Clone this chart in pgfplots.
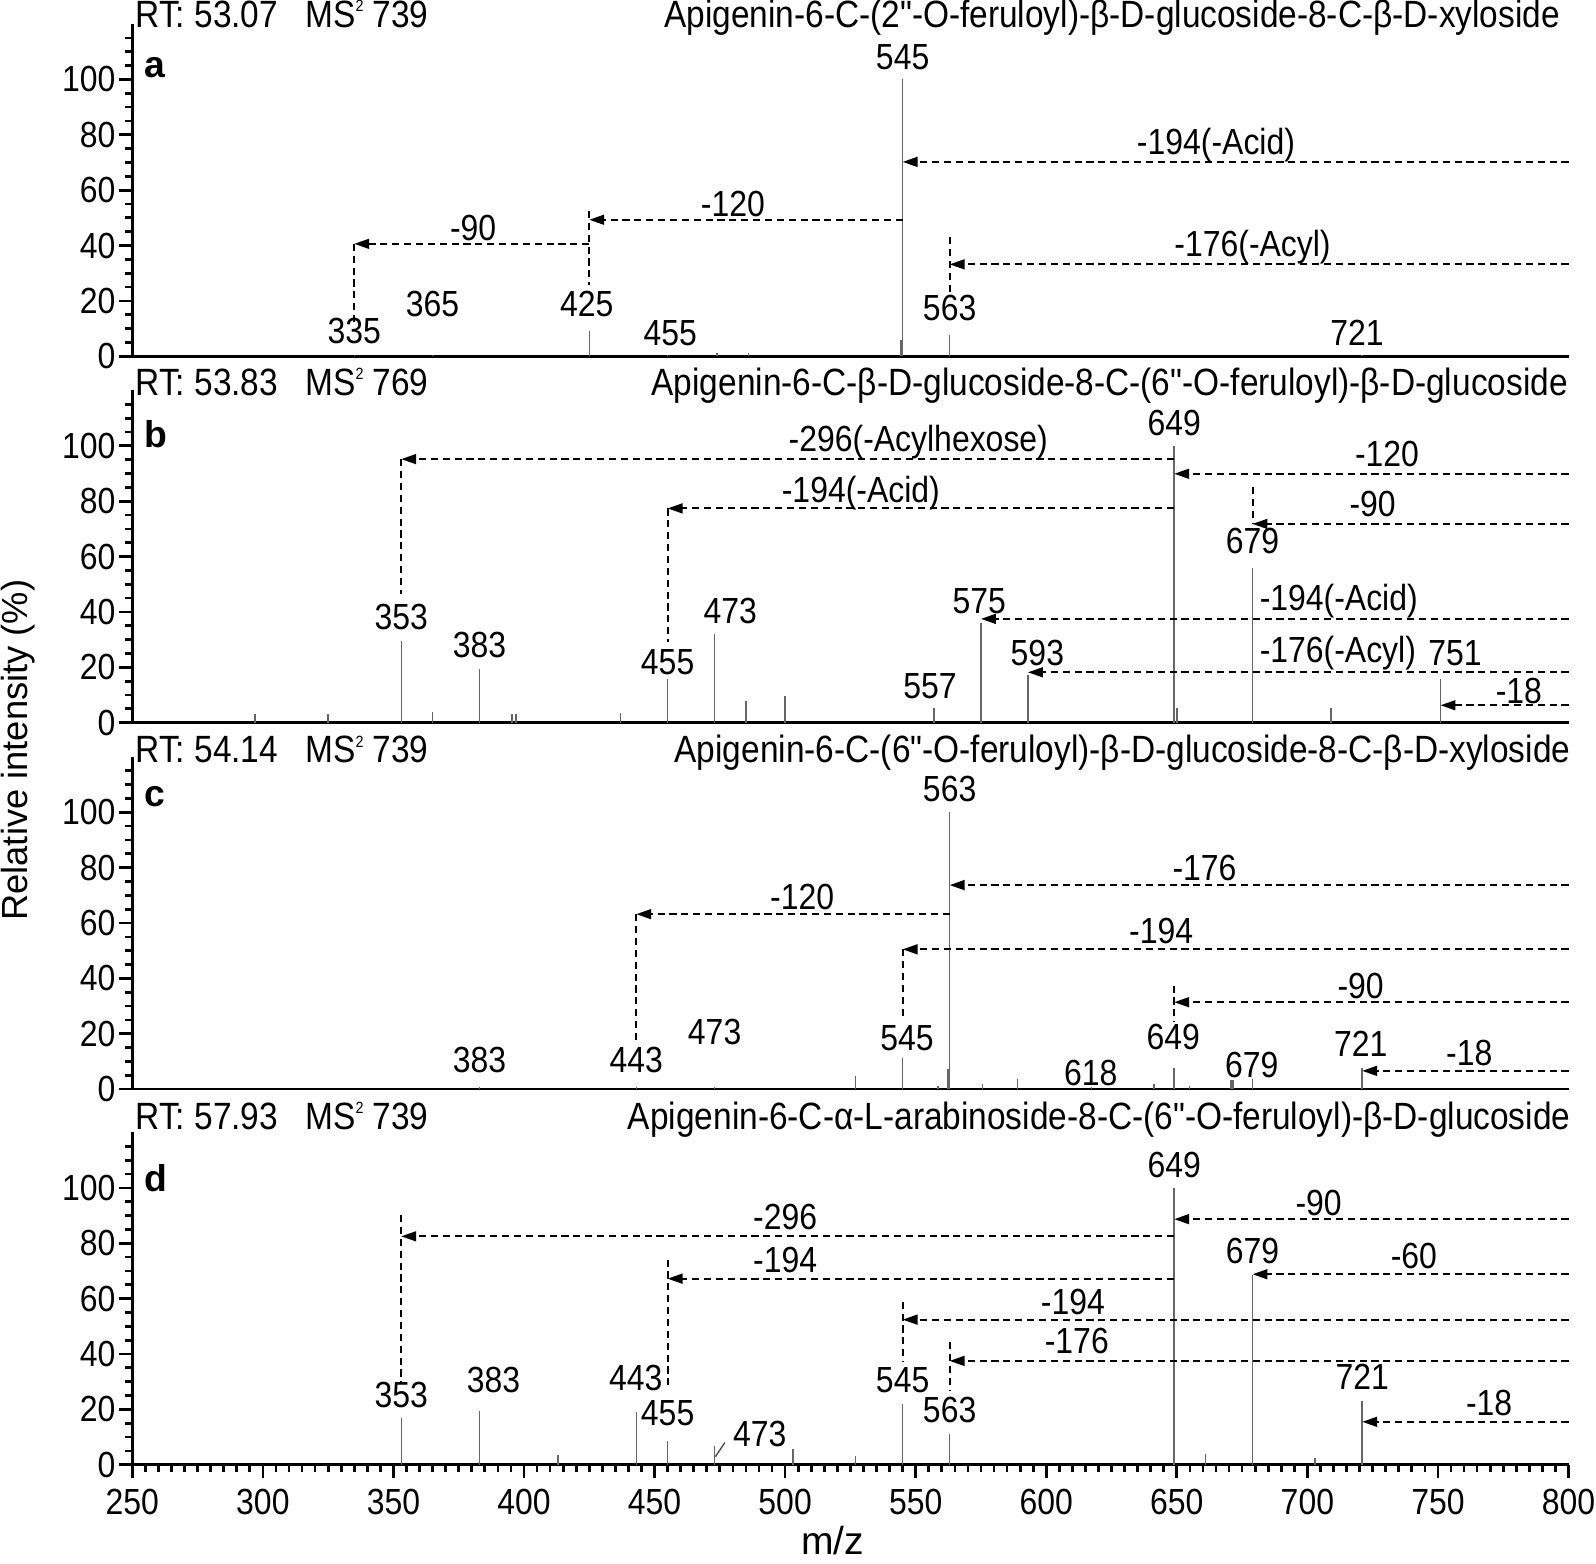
\documentclass[border=0pt]{standalone}
\usepackage{fontspec}
\setmainfont{Liberation Sans}
\setmonofont{Liberation Sans}[FakeStretch=0.88]
\newfontfamily\nf{Liberation Sans}[FakeStretch=0.88]
\usepackage{pgfplots}
\pgfplotsset{compat=1.18}
\usetikzlibrary{arrows.meta}
\newcommand\lab{\nf\fontsize{10.7}{12}\selectfont}
\newcommand\ttl{\nf\fontsize{11.2}{12}\selectfont}
\newcommand\q{{\ttfamily"}}
\newcommand\sq{\raisebox{4.7pt}{\nf\fontsize{4.8}{5}\selectfont 2}}
\pgfplotsset{
 ms/.style={
  scale only axis, width=423.3pt, height=97.92pt,
  xmin=250, xmax=800, ymin=0, ymax=120,
  axis lines=left, axis line style={-, line width=0.8pt},
  clip=false,
  ytick={0,20,40,60,80,100},
  minor ytick={5,10,15,25,30,35,45,50,55,65,70,75,85,90,95,105,110,115},
  tick align=outside, major tick length=3.8pt, minor tick length=2.2pt,
  every tick/.style={black, line width=0.8pt},
  yticklabel style={font=\lab, inner sep=1pt},
  xticklabel style={font=\lab},
  /pgf/number format/assume math mode=true,
  xtick=\empty,
  anchor=south west,
 },
 stick/.style={ycomb, no marks, draw=black!60, line width=0.45pt},
}
\tikzset{
 dl/.style={black, line width=0.6pt, dash pattern=on 2.1pt off 1.4pt},
 ar/.style={dl, -{Triangle[length=4.4pt,width=2.9pt]}},
 pl/.style={font=\lab, inner sep=0pt},
 tl/.style={font=\ttl, inner sep=0pt},
 pan/.style={font=\bfseries\fontsize{11}{13}\selectfont, inner sep=0pt, anchor=base west},
}
\begin{document}
\begin{tikzpicture}
% ---------------- panel a ----------------
\begin{axis}[ms, at={(39pt,-105pt)}]
\addplot[stick] coordinates {(335,0.5)(365,0.5)(425,9)(455,0.5)(474,1)(486,1)(544.4,6)(545,100)(563,7.5)(721,0.5)};
\node[tl, anchor=base west] at (axis cs:251,118.7) {RT: 53.07};
\node[tl, anchor=base west] at (axis cs:316,118.7) {MS\sq\ 739};
\node[tl, anchor=base east] at (axis cs:797,118.7) {Apigenin-6-C-(2\q-O-feruloyl)-β-D-glucoside-8-C-β-D-xyloside};
\node[pan] at (axis cs:254.3,100.6) {a};
\node[pl] at (axis cs:545,108) {545};
\node[pl] at (axis cs:563,17.3) {563};
\node[pl] at (axis cs:424,18.7) {425};
\node[pl] at (axis cs:335,9) {335};
\node[pl] at (axis cs:365,18.7) {365};
\node[pl] at (axis cs:456,8.4) {455};
\node[pl] at (axis cs:719,8.4) {721};
\node[pl] at (axis cs:665,76.4) {-194(-Acid)};
\node[pl] at (axis cs:480,54.9) {-120};
\node[pl] at (axis cs:380.5,46.5) {-90};
\node[pl] at (axis cs:679,39.4) {-176(-Acyl)};
\draw[ar] (axis cs:800,70.2) -- (axis cs:545,70.2);
\draw[ar] (axis cs:545,49.3) -- (axis cs:425,49.3);
\draw[dl] (axis cs:425,52.5) -- (axis cs:425,25.7);
\draw[ar] (axis cs:425,40.6) -- (axis cs:335,40.6);
\draw[dl] (axis cs:335,40.6) -- (axis cs:335,12.5);
\draw[ar] (axis cs:800,33.2) -- (axis cs:563,33.2);
\draw[dl] (axis cs:563,43) -- (axis cs:563,23.3);
\end{axis}
% ---------------- panel b ----------------
\begin{axis}[ms, at={(39pt,-213pt)}]
\addplot[stick] coordinates {(297,3)(325,3)(353,29.4)(365,4)(383,19.3)(395.5,3.3)(397,3.3)(437,3.6)(455,15.7)(473,32.1)(485,7.7)(500,9.5)(557,5.4)(575,36)(593,17.3)(649,100)(650,5.4)(679,55.7)(709,5.4)(751,15.7)};
\node[tl, anchor=base west] at (axis cs:251,118.2) {RT: 53.83};
\node[tl, anchor=base west] at (axis cs:316,118.2) {MS\sq\ 769};
\node[tl, anchor=base east] at (axis cs:800,118.2) {Apigenin-6-C-β-D-glucoside-8-C-(6\q-O-feruloyl)-β-D-glucoside};
\node[pan] at (axis cs:254.3,99.4) {b};
\node[pl] at (axis cs:353,38.1) {353};
\node[pl] at (axis cs:383,28) {383};
\node[pl] at (axis cs:455,22) {455};
\node[pl] at (axis cs:479,40.5) {473};
\node[pl] at (axis cs:555.5,13.3) {557};
\node[pl] at (axis cs:574.3,43.8) {575};
\node[pl] at (axis cs:596.6,25) {593};
\node[pl] at (axis cs:649,108.3) {649};
\node[pl] at (axis cs:679,65.5) {679};
\node[pl] at (axis cs:756.5,25) {751};
\node[pl] at (axis cs:551,101.5) {-296(-Acylhexose)};
\node[pl] at (axis cs:730.5,97) {-120};
\node[pl] at (axis cs:529,83) {-194(-Acid)};
\node[pl] at (axis cs:725,79) {-90};
\node[pl, anchor=west] at (axis cs:681.5,43.8) {-194(-Acid)};
\node[pl, anchor=west] at (axis cs:681.5,25) {-176(-Acyl)};
\node[pl] at (axis cs:781,11.5) {-18};
\draw[ar] (axis cs:649,95.2) -- (axis cs:353,95.2);
\draw[dl] (axis cs:353,95.2) -- (axis cs:353,46.4);
\draw[ar] (axis cs:800,89.9) -- (axis cs:649,89.9);
\draw[ar] (axis cs:649,77.4) -- (axis cs:455,77.4);
\draw[dl] (axis cs:455,77.4) -- (axis cs:455,29);
\draw[ar] (axis cs:800,71.8) -- (axis cs:679,71.8);
\draw[dl] (axis cs:679,85.1) -- (axis cs:679,71.8);
\draw[ar] (axis cs:800,37.5) -- (axis cs:575,37.5);
\draw[ar] (axis cs:800,18.2) -- (axis cs:593,18.2);
\draw[ar] (axis cs:800,6.3) -- (axis cs:751,6.3);
\end{axis}
% ---------------- panel c ----------------
\begin{axis}[ms, at={(39pt,-321pt)}]
\addplot[stick] coordinates {(383,0.6)(443,0.6)(473,0.8)(527,4.6)(545,11.1)(558.5,1.2)(562.3,7.3)(563,100)(575.6,1.8)(589,3.5)(617.3,0.8)(641.3,1.8)(649,7.5)(654.8,1.2)(670.8,3.2)(671.6,3.2)(679,3.7)(721,7.5)};
\node[tl, anchor=base west] at (axis cs:251,117.8) {RT: 54.14};
\node[tl, anchor=base west] at (axis cs:316,117.8) {MS\sq\ 739};
\node[tl, anchor=base east] at (axis cs:801,117.8) {Apigenin-6-C-(6\q-O-feruloyl)-β-D-glucoside-8-C-β-D-xyloside};
\node[pan] at (axis cs:254.3,102) {c};
\node[pl] at (axis cs:563,108.4) {563};
\node[pl] at (axis cs:383,10.6) {383};
\node[pl] at (axis cs:443,10.6) {443};
\node[pl] at (axis cs:473,20.6) {473};
\node[pl] at (axis cs:546.7,18.3) {545};
\node[pl] at (axis cs:617,5.7) {618};
\node[pl] at (axis cs:648.6,18.9) {649};
\node[pl] at (axis cs:678.7,8.7) {679};
\node[pl] at (axis cs:720.4,16.5) {721};
\node[pl] at (axis cs:660.6,79.7) {-176};
\node[pl] at (axis cs:506.5,69.5) {-120};
\node[pl] at (axis cs:644,57) {-194};
\node[pl] at (axis cs:720.4,37.4) {-90};
\node[pl] at (axis cs:762,12.9) {-18};
\draw[ar] (axis cs:800,73.7) -- (axis cs:563,73.7);
\draw[ar] (axis cs:563,63.2) -- (axis cs:443,63.2);
\draw[dl] (axis cs:443,63.2) -- (axis cs:443,17.6);
\draw[ar] (axis cs:800,50.5) -- (axis cs:545,50.5);
\draw[dl] (axis cs:545,50.5) -- (axis cs:545,24.8);
\draw[ar] (axis cs:800,31.4) -- (axis cs:649,31.4);
\draw[dl] (axis cs:649,37.4) -- (axis cs:649,24.2);
\draw[ar] (axis cs:800,6.6) -- (axis cs:721,6.6);
\end{axis}
% ---------------- panel d ----------------
\begin{axis}[ms, at={(39pt,-431.7pt)},
  xtick={250,300,...,800}, minor xtick={255,260,...,795}]
\addplot[stick] coordinates {(353,16.7)(383,19.5)(413,3.5)(443,19)(455,8.6)(473,6.8)(503,5.6)(527,3)(545,22)(563,11.2)(649,100)(661,4)(679,68.5)(703,2.3)(721,23.1)};
\node[tl, anchor=base west] at (axis cs:251,121) {RT: 57.93};
\node[tl, anchor=base west] at (axis cs:316,121) {MS\sq\ 739};
\node[tl, anchor=base east] at (axis cs:801,121) {Apigenin-6-C-α-L-arabinoside-8-C-(6\q-O-feruloyl)-β-D-glucoside};
\node[pan] at (axis cs:254.3,98.6) {d};
\node[pl] at (axis cs:353,25.3) {353};
\node[pl] at (axis cs:388.3,30.6) {383};
\node[pl] at (axis cs:442.8,31.2) {443};
\node[pl] at (axis cs:455,18.7) {455};
\node[pl] at (axis cs:490.3,11.2) {473};
\node[pl] at (axis cs:545,30.6) {545};
\node[pl] at (axis cs:563,19.7) {563};
\node[pl] at (axis cs:649,108.1) {649};
\node[pl] at (axis cs:679,77.1) {679};
\node[pl] at (axis cs:721,31.6) {721};
\node[pl] at (axis cs:500,89.5) {-296};
\node[pl] at (axis cs:704.3,94.4) {-90};
\node[pl] at (axis cs:500,74) {-194};
\node[pl] at (axis cs:740.8,75.3) {-60};
\node[pl] at (axis cs:610.2,58.6) {-194};
\node[pl] at (axis cs:611.7,44.7) {-176};
\node[pl] at (axis cs:769.6,22.3) {-18};
\draw[black!70, line width=0.4pt] (axis cs:473.3,2.9) -- (axis cs:476.9,8);
\draw[ar] (axis cs:649,82.5) -- (axis cs:353,82.5);
\draw[dl] (axis cs:353,90.2) -- (axis cs:353,30);
\draw[ar] (axis cs:800,88.7) -- (axis cs:649,88.7);
\draw[ar] (axis cs:649,67.2) -- (axis cs:455,67.2);
\draw[dl] (axis cs:455,74.1) -- (axis cs:455,28.2);
\draw[ar] (axis cs:800,68.8) -- (axis cs:679,68.8);
\draw[ar] (axis cs:800,52.4) -- (axis cs:545,52.4);
\draw[dl] (axis cs:545,58.9) -- (axis cs:545,37);
\draw[ar] (axis cs:800,37.5) -- (axis cs:563,37.5);
\draw[dl] (axis cs:563,44.3) -- (axis cs:563,27);
\draw[ar] (axis cs:800,15.5) -- (axis cs:721,15.5);
\end{axis}
\node[rotate=90, font=\fontsize{10.7}{12}\selectfont] at (5.4pt,-221.1pt) {Relative intensity (\%)};
\node[font=\fontsize{11.5}{13}\selectfont] at (245.4pt,-454pt) {m/z};
\pgfresetboundingbox
\useasboundingbox (0,0) rectangle (470.4pt,-460.8pt);
\end{tikzpicture}
\end{document}
